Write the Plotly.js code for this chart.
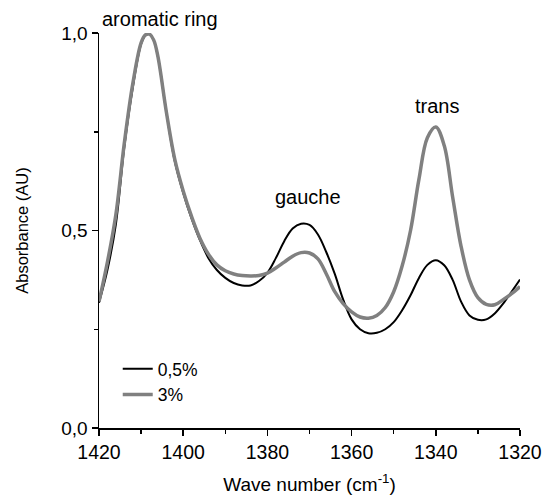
<!DOCTYPE html>
<html>
<head>
<meta charset="utf-8">
<script src="https://cdn.plot.ly/plotly-3.0.1.min.js"></script>
<style>html,body{margin:0;padding:0;background:#fff;}#chart{width:545px;height:498px;}</style>
</head>
<body>
<div id="chart"></div>
<script>
const waveNumbers = [1420,1418,1416,1414,1412,1410,1409,1408,1407,1406,1404,1402,1400,1398,1396,1394,1392,1390,1388,1386,1384,1382,1380,1378,1376,1374,1372,1370,1368,1366,1364,1362,1360,1358,1356,1354,1352,1350,1348,1346,1344,1342,1340,1338,1336,1334,1332,1330,1328,1326,1324,1322,1320];
const absorbance05 = [0.317,0.40,0.515,0.71,0.86,0.972,0.994,0.997,0.982,0.94,0.80,0.675,0.595,0.53,0.475,0.43,0.40,0.38,0.367,0.361,0.361,0.372,0.393,0.43,0.473,0.505,0.517,0.514,0.49,0.445,0.39,0.325,0.275,0.25,0.24,0.241,0.25,0.268,0.298,0.336,0.38,0.413,0.425,0.412,0.375,0.32,0.285,0.274,0.275,0.29,0.315,0.345,0.376];
const absorbance3 = [0.32,0.42,0.54,0.72,0.87,0.975,0.995,0.997,0.982,0.94,0.80,0.68,0.60,0.535,0.48,0.44,0.413,0.398,0.39,0.386,0.385,0.386,0.392,0.405,0.42,0.435,0.444,0.443,0.428,0.39,0.345,0.315,0.294,0.281,0.278,0.285,0.305,0.345,0.41,0.50,0.63,0.735,0.762,0.715,0.585,0.46,0.375,0.33,0.313,0.312,0.325,0.34,0.358];
const seriesNames = ["0,5%","3%"];
const xTickVals = [1420,1400,1380,1360,1340,1320];
const xMinorVals = [1410,1390,1370,1350,1330];
const yTickVals = [0,0.5,1];
const yTickText = ["0,0","0,5","1,0"];
const yMinorVals = [0.25,0.75];
const peakLabels = ["aromatic ring","gauche","trans"];
const peakX = [1405.4,1370.4,1339.6];
const peakY = [1.036,0.586,0.816];

const fam = "Liberation Sans, Arial, sans-serif";
const tickFont = {family:fam, size:19.5, color:"#000"};
const traces = [
  {x:waveNumbers, y:absorbance05, name:seriesNames[0], mode:"lines", line:{color:"#000000", width:2, shape:"spline", smoothing:1}},
  {x:waveNumbers, y:absorbance3, name:seriesNames[1], mode:"lines", line:{color:"#808080", width:3.5, shape:"spline", smoothing:1}}
];
const layout = {
  width:545, height:498,
  margin:{l:99, r:25, t:33, b:70, pad:0},
  paper_bgcolor:"#fff", plot_bgcolor:"#fff",
  font:{family:fam, size:18, color:"#000"},
  showlegend:true,
  legend:{x:0.0445, y:0.195, xanchor:"left", yanchor:"top", bgcolor:"rgba(0,0,0,0)", font:{family:fam, size:17.5, color:"#000"}, tracegroupgap:0},
  xaxis:{range:[1420,1320], autorange:false, tickvals:xTickVals, ticks:"outside", ticklen:6, tickwidth:1.5, tickcolor:"#000",
         showline:true, linecolor:"#000", linewidth:1.5, showgrid:false, zeroline:false,
         minor:{tickvals:xMinorVals, ticks:"outside", ticklen:4, tickwidth:1.5, tickcolor:"#000", showgrid:false},
         title:{text:"Wave number (cm<sup>-1</sup>)", font:{family:fam, size:19, color:"#000"}, standoff:16}, tickfont:tickFont},
  yaxis:{range:[0,1], autorange:false, tickvals:yTickVals, ticktext:yTickText, ticks:"outside", ticklen:6, tickwidth:1.5, tickcolor:"#000",
         showline:true, linecolor:"#000", linewidth:1.5, showgrid:false, zeroline:false,
         minor:{tickvals:yMinorVals, ticks:"outside", ticklen:4, tickwidth:1.5, tickcolor:"#000", showgrid:false},
         title:{text:"Absorbance (AU)", font:{family:fam, size:16.5, color:"#000"}, standoff:28}, tickfont:{family:fam, size:19, color:"#000"}},
  annotations: peakLabels.map((t,i)=>({x:peakX[i], y:peakY[i], xref:"x", yref:"paper", xanchor:"center", yanchor:"middle", text:t, showarrow:false, font:{family:fam, size:20, color:"#000"}}))
};
Plotly.newPlot("chart", traces, layout, {displayModeBar:false, staticPlot:true});
</script>
</body>
</html>
